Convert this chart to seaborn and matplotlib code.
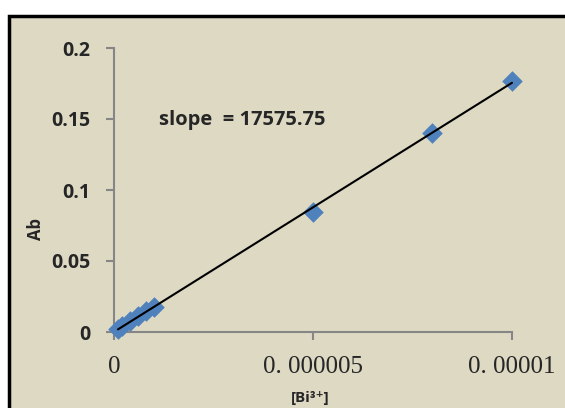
import matplotlib.pyplot as plt
import matplotlib.patches as mpatches
import numpy as np
import pandas as pd
import seaborn as sns

# Calibration data
conc = [1e-7, 2e-7, 4e-7, 6e-7, 8e-7, 1e-6, 5e-6, 8e-6, 1e-5]
absorb = [0.002, 0.004, 0.0075, 0.011, 0.0145, 0.0175, 0.0847, 0.1404, 0.177]
x_ticks = [0, 5e-6, 1e-5]
x_tick_labels = ["0", "0. 000005", "0. 00001"]
y_ticks = [0, 0.05, 0.1, 0.15, 0.2]
y_tick_labels = ["0", "0.05", "0.1", "0.15", "0.2"]
slope_text = "slope  = 17575.75"

BG = "#ddd9c3"
BLUE = "#4f81bd"
AXIS_GREY = "#868686"

df = pd.DataFrame({"conc": conc, "ab": absorb})

sns.set_style("white")
plt.rcParams["font.family"] = ["Open Sans", "DejaVu Sans"]

W, H = 565, 408
fig = plt.figure(figsize=(W / 100, H / 100), dpi=100)
fig.patch.set_facecolor("white")

# chart area with black border (cropped at right and bottom)
border = mpatches.Rectangle(
    (9 / W, -0.1), 1.0, 1.1 - 16 / H,
    transform=fig.transFigure, facecolor=BG, edgecolor="black",
    linewidth=2.5, clip_on=False, zorder=0,
)
fig.patches.append(border)

ax = fig.add_axes([114 / W, 1 - 332 / H, (512 - 114) / W, (332 - 48) / H])
ax.set_zorder(2)
ax.patch.set_alpha(0)

sns.regplot(
    data=df, x="conc", y="ab", ax=ax, ci=None, truncate=True,
    marker="D",
    scatter_kws={"s": 110, "color": BLUE, "alpha": 1, "linewidths": 0,
                 "zorder": 3, "clip_on": False},
    line_kws={"color": "black", "linewidth": 1.5, "zorder": 4, "clip_on": False},
)

ax.set_xlim(0, 1e-5)
ax.set_ylim(0, 0.2)
ax.set_xticks(x_ticks)
ax.set_xticklabels(x_tick_labels, family=["Liberation Serif"], fontsize=18)
ax.set_yticks(y_ticks)
ax.set_yticklabels(y_tick_labels, fontsize=14, fontweight="bold")

for side in ["top", "right"]:
    ax.spines[side].set_visible(False)
for side in ["left", "bottom"]:
    ax.spines[side].set_color(AXIS_GREY)
    ax.spines[side].set_linewidth(1.5)
ax.tick_params(axis="both", direction="out", length=6, width=1.5,
               color=AXIS_GREY, bottom=True, left=True)
ax.tick_params(axis="y", pad=11)
ax.tick_params(axis="x", pad=11)

ax.set_xlabel("[Bi³⁺]", fontsize=11, fontweight="bold")
ax.xaxis.set_label_coords((310 - 114) / 398, (332 - 391) / 284)
ax.set_ylabel("Ab", fontsize=12, fontweight="bold")
ax.yaxis.set_label_coords((45 - 114) / 398, (332 - 229) / 284)

ax.text(159 / W, 1 - 120 / H, slope_text, transform=fig.transFigure,
        fontsize=14.5, fontweight="bold", va="center", ha="left")

fig.savefig("out.png", dpi=100)
